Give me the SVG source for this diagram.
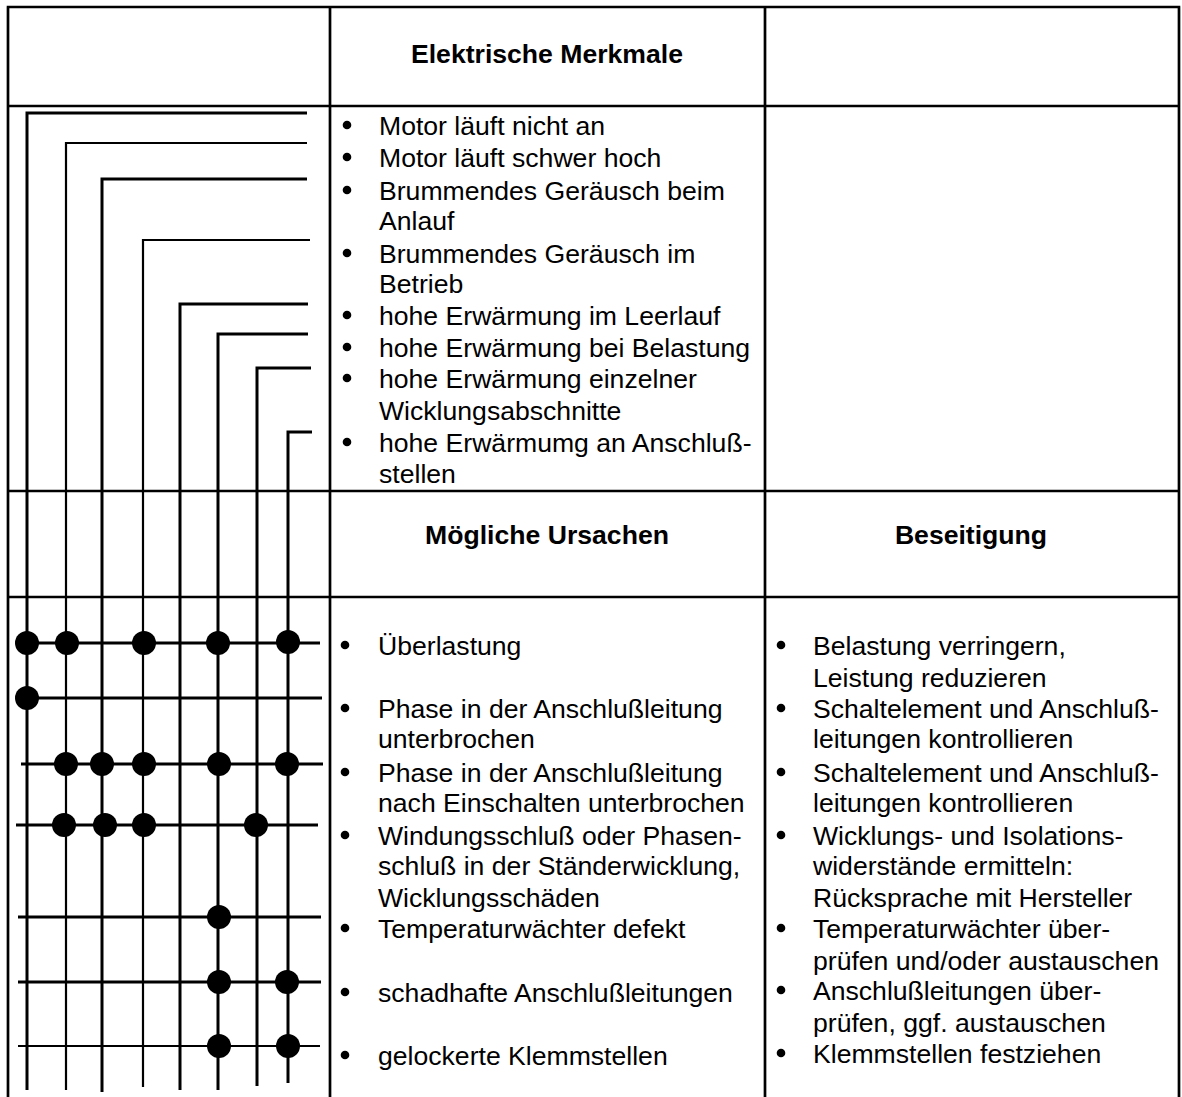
<svg xmlns="http://www.w3.org/2000/svg" width="1182" height="1097" viewBox="0 0 1182 1097">
<style>
.grid{stroke:#000;stroke-width:2.7;fill:none}
.wire{stroke:#000;stroke-width:3;fill:none}
.thin{stroke:#000;stroke-width:2.2;fill:none}
.dot{fill:#000}
.t{font-family:"Liberation Sans",Arial,sans-serif;font-size:26.6px;fill:#000}
.h{font-family:"Liberation Sans",Arial,sans-serif;font-size:26.6px;font-weight:bold;fill:#000;text-anchor:middle}
.b{fill:#000}
</style>
<rect width="1182" height="1097" fill="#fff"/>
<g id="table">
<path class="grid" d="M8,7 V1097 M330,7 V1097 M765,7 V1097 M1179,7 V1097 M6.7,7 H1180.3 M8,106 H1179 M8,491 H1179 M8,597 H1179"/>
</g>
<g id="headers">
<text id="h-merkmale" class="h" x="547" y="63">Elektrische Merkmale</text>
<text id="h-ursachen" class="h" x="547" y="544">Mögliche Ursachen</text>
<text id="h-beseitigung" class="h" x="971" y="544">Beseitigung</text>
</g>
<g id="merkmale">
<g class="b"><circle cx="347" cy="125" r="4.3"/><circle cx="347" cy="157" r="4.3"/><circle cx="347" cy="190" r="4.3"/><circle cx="347" cy="253" r="4.3"/><circle cx="347" cy="315" r="4.3"/><circle cx="347" cy="347" r="4.3"/><circle cx="347" cy="378" r="4.3"/><circle cx="347" cy="442" r="4.3"/></g>
<text class="t" x="379" y="135">Motor läuft nicht an</text>
<text class="t" x="379" y="166.7">Motor läuft schwer hoch</text>
<text class="t" x="379" y="200">Brummendes Geräusch beim</text>
<text class="t" x="379" y="230">Anlauf</text>
<text class="t" x="379" y="263">Brummendes Geräusch im</text>
<text class="t" x="379" y="293">Betrieb</text>
<text class="t" x="379" y="325">hohe Erwärmung im Leerlauf</text>
<text class="t" x="379" y="357">hohe Erwärmung bei Belastung</text>
<text class="t" x="379" y="388">hohe Erwärmung einzelner</text>
<text class="t" x="379" y="420">Wicklungsabschnitte</text>
<text class="t" x="379" y="452">hohe Erwärmumg an Anschluß-</text>
<text class="t" x="379" y="483">stellen</text>
</g>
<g id="ursachen">
<g class="b"><circle cx="345" cy="645" r="4.3"/><circle cx="345" cy="708" r="4.3"/><circle cx="345" cy="772" r="4.3"/><circle cx="345" cy="835" r="4.3"/><circle cx="345" cy="928" r="4.3"/><circle cx="345" cy="992" r="4.3"/><circle cx="345" cy="1055" r="4.3"/></g>
<text class="t" x="378" y="655">Überlastung</text>
<text class="t" x="378" y="718.3">Phase in der Anschlußleitung</text>
<text class="t" x="378" y="748.3">unterbrochen</text>
<text class="t" x="378" y="781.7">Phase in der Anschlußleitung</text>
<text class="t" x="378" y="811.7">nach Einschalten unterbrochen</text>
<text class="t" x="378" y="845">Windungsschluß oder Phasen-</text>
<text class="t" x="378" y="875">schluß in der Ständerwicklung,</text>
<text class="t" x="378" y="906.7">Wicklungsschäden</text>
<text class="t" x="378" y="938.3">Temperaturwächter defekt</text>
<text class="t" x="378" y="1001.7">schadhafte Anschlußleitungen</text>
<text class="t" x="378" y="1065">gelockerte Klemmstellen</text>
</g>
<g id="beseitigung">
<g class="b"><circle cx="781" cy="645" r="4.3"/><circle cx="781" cy="708" r="4.3"/><circle cx="781" cy="772" r="4.3"/><circle cx="781" cy="835" r="4.3"/><circle cx="781" cy="928" r="4.3"/><circle cx="781" cy="990" r="4.3"/><circle cx="781" cy="1053" r="4.3"/></g>
<text class="t" x="813" y="655">Belastung verringern,</text>
<text class="t" x="813" y="686.7">Leistung reduzieren</text>
<text class="t" x="813" y="718.3">Schaltelement und Anschluß-</text>
<text class="t" x="813" y="748.3">leitungen kontrollieren</text>
<text class="t" x="813" y="781.7">Schaltelement und Anschluß-</text>
<text class="t" x="813" y="811.7">leitungen kontrollieren</text>
<text class="t" x="813" y="845">Wicklungs- und Isolations-</text>
<text class="t" x="813" y="875">widerstände ermitteln:</text>
<text class="t" x="813" y="906.7">Rücksprache mit Hersteller</text>
<text class="t" x="813" y="938.3">Temperaturwächter über-</text>
<text class="t" x="813" y="970">prüfen und/oder austauschen</text>
<text class="t" x="813" y="1000">Anschlußleitungen über-</text>
<text class="t" x="813" y="1031.7">prüfen, ggf. austauschen</text>
<text class="t" x="813" y="1063.3">Klemmstellen festziehen</text>
</g>
<g id="connectors">
<path class="wire" d="M307,113 H27 V1090"/>
<path class="thin" d="M307,143 H66 V1090"/>
<path class="wire" d="M307,179 H102 V1092"/>
<path class="thin" d="M310,240 H143 V1087"/>
<path class="wire" d="M308,304 H180 V1090"/>
<path class="wire" d="M308,334 H218 V1090"/>
<path class="wire" d="M311,368 H257 V1086"/>
<path class="wire" d="M312,432 H288 V1083"/>
<path class="wire" d="M27,643 H320"/>
<path class="wire" d="M27,698 H322"/>
<path class="wire" d="M21,764 H323"/>
<path class="wire" d="M16,825 H318"/>
<path class="wire" d="M18,917 H321"/>
<path class="wire" d="M18,982 H321"/>
<path class="thin" d="M18,1046 H320"/>
</g>
<g id="junctions" class="dot">
<circle cx="27" cy="643" r="12"/><circle cx="67" cy="643" r="12"/><circle cx="144" cy="643" r="12"/><circle cx="218" cy="643" r="12"/><circle cx="288" cy="642" r="12"/>
<circle cx="27" cy="698" r="12"/>
<circle cx="66" cy="764" r="12"/><circle cx="102" cy="764" r="12"/><circle cx="144" cy="764" r="12"/><circle cx="219" cy="764" r="12"/><circle cx="287" cy="764" r="12"/>
<circle cx="64" cy="825" r="12"/><circle cx="105" cy="825" r="12"/><circle cx="144" cy="825" r="12"/><circle cx="256" cy="825" r="12"/>
<circle cx="219" cy="917" r="12"/>
<circle cx="219" cy="982" r="12"/><circle cx="287" cy="982" r="12"/>
<circle cx="219" cy="1046" r="12"/><circle cx="288" cy="1046" r="12"/>
</g>
</svg>
